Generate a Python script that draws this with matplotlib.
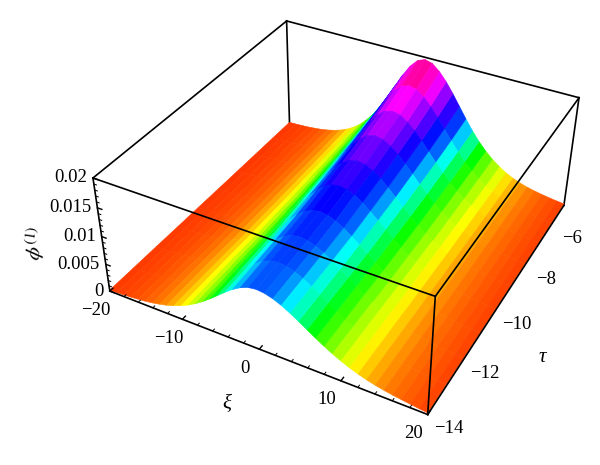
import numpy as np
import matplotlib
matplotlib.use('Agg')
import matplotlib.pyplot as plt
from matplotlib.colors import hsv_to_rgb
from mpl_toolkits.mplot3d import proj3d

plt.rcParams['font.family'] = ['Liberation Serif', 'DejaVu Serif']
plt.rcParams['mathtext.fontset'] = 'stix'

# surface, phi in units of 1e-5
xi = list(range(-20, 21))
tau = [-14, -13, -12, -11, -10, -9, -8, -7, -6, -5]
phi_14 = [19, 25, 33, 43, 56, 72, 93, 121, 155, 199, 253, 318, 397, 488, 590, 699, 809, 912, 994, 1051, 1070, 1054, 1012, 950, 872, 783, 690, 598, 510, 431, 360, 297, 244, 198, 161, 131, 105, 84, 65, 46, 30]
phi_13 = [18, 24, 32, 42, 55, 71, 92, 120, 155, 199, 254, 322, 403, 498, 605, 720, 836, 945, 1033, 1094, 1115, 1097, 1052, 985, 902, 808, 711, 613, 522, 438, 365, 300, 245, 198, 161, 130, 104, 83, 65, 46, 30]
phi_12 = [18, 24, 31, 41, 54, 71, 92, 119, 155, 200, 256, 326, 410, 509, 621, 741, 864, 979, 1073, 1138, 1160, 1141, 1093, 1022, 934, 834, 731, 629, 534, 447, 371, 304, 246, 199, 161, 129, 104, 83, 64, 46, 30]
phi_11 = [16, 22, 29, 38, 50, 66, 86, 114, 149, 194, 251, 322, 410, 512, 632, 761, 895, 1019, 1125, 1195, 1220, 1199, 1147, 1068, 971, 863, 751, 641, 538, 448, 369, 299, 241, 193, 155, 124, 98, 78, 60, 44, 29]
phi_10 = [16, 21, 27, 37, 48, 64, 86, 113, 149, 195, 255, 330, 422, 533, 660, 802, 948, 1086, 1204, 1282, 1310, 1287, 1228, 1140, 1032, 913, 791, 670, 561, 463, 379, 306, 245, 194, 155, 123, 98, 77, 58, 42, 28]
phi_9 = [14, 19, 26, 35, 47, 63, 84, 112, 148, 196, 256, 336, 431, 550, 685, 840, 999, 1151, 1282, 1369, 1400, 1375, 1309, 1211, 1092, 961, 828, 696, 580, 475, 386, 310, 246, 195, 155, 122, 96, 75, 57, 41, 27]
phi_8 = [14, 19, 26, 35, 47, 64, 86, 114, 152, 202, 266, 349, 452, 578, 726, 892, 1068, 1234, 1379, 1476, 1510, 1483, 1409, 1301, 1169, 1026, 879, 738, 611, 499, 404, 322, 255, 201, 159, 125, 98, 77, 58, 41, 27]
phi_7 = [14, 19, 26, 35, 47, 65, 86, 115, 156, 207, 276, 363, 473, 608, 769, 949, 1141, 1325, 1484, 1592, 1630, 1600, 1517, 1398, 1253, 1095, 935, 782, 643, 523, 421, 335, 264, 206, 163, 127, 99, 77, 58, 41, 27]
phi_6 = [14, 19, 26, 35, 47, 65, 88, 119, 161, 216, 288, 381, 501, 646, 822, 1021, 1232, 1438, 1616, 1737, 1780, 1750, 1654, 1520, 1358, 1181, 1005, 836, 685, 555, 445, 351, 276, 215, 169, 131, 102, 79, 59, 41, 27]
phi_5 = [14, 19, 26, 35, 49, 66, 91, 124, 167, 226, 303, 404, 533, 692, 886, 1105, 1342, 1574, 1774, 1911, 1960, 1924, 1816, 1666, 1484, 1285, 1087, 901, 735, 592, 472, 372, 290, 225, 175, 136, 106, 81, 60, 42, 27]
phi_rows = [phi_14, phi_13, phi_12, phi_11, phi_10, phi_9, phi_8, phi_7, phi_6, phi_5]

xi_major = [-20, -10, 0, 10, 20]
xi_minor = [-18, -16, -14, -12, -8, -6, -4, -2, 2, 4, 6, 8, 12, 14, 16, 18]
tau_major = [-14, -12, -10, -8, -6]
z_major = [0, 0.005, 0.01, 0.015, 0.02]
z_labels = ['0', '0.005', '0.01', '0.015', '0.02']
z_minor = [0.001, 0.002, 0.003, 0.004, 0.006, 0.007, 0.008, 0.009, 0.011, 0.012, 0.013, 0.014, 0.016, 0.017, 0.018, 0.019]

# rainbow against height
hue_phi = [0, 0.0012, 0.0029, 0.0064, 0.0091, 0.0105, 0.0125, 0.015, 0.0168, 0.0196]
hue_val = [0.03, 0.08, 0.167, 0.333, 0.5, 0.6, 0.667, 0.76, 0.83, 0.93]

X, Y = np.meshgrid(xi, tau)
Z = np.array(phi_rows) * 1e-5
# colour each facet by the mean height of its corners
Zc = 0.25 * (Z[:-1, :-1] + Z[1:, :-1] + Z[:-1, 1:] + Z[1:, 1:])
hue = np.interp(Zc, hue_phi, hue_val)
colors = hsv_to_rgb(np.dstack([hue, np.ones_like(hue), np.ones_like(hue)]))

fig = plt.figure(figsize=(6, 4.65), dpi=100)
ax = fig.add_axes([0.0699, 0.0718, 1, 1], projection='3d', computed_zorder=False)
ax.set_xlim(-20, 20)
ax.set_ylim(-14, -5)
ax.set_zlim(0, 0.02)
ax.margins(0)
ax.view_init(36.0276, -62.0738, -0.3756)
ax.set_proj_type('persp', focal_length=0.4702)
ax.set_box_aspect((0.9892, 1, 0.3912), zoom=1.0622)
ax.apply_aspect()
ax.set_axis_off()

surf = ax.plot_surface(X, Y, Z, facecolors=colors, rstride=1, cstride=1, shade=False,
                       linewidth=0.4, antialiased=True, zorder=2, clip_on=False)

x0, x1, y0, y1, z1 = -20, 20, -14, -5, 0.02
back = [((x0, y1, z1), (x1, y1, z1)), ((x0, y1, z1), (x0, y1, 0)), ((x0, y1, z1), (x0, y0, z1)),
        ((x1, y1, z1), (x1, y1, 0))]
front = [((x0, y0, 0), (x1, y0, 0)), ((x0, y0, 0), (x0, y0, z1)), ((x1, y0, 0), (x1, y0, z1)),
         ((x0, y0, z1), (x1, y0, z1)), ((x1, y0, z1), (x1, y1, z1)), ((x1, y0, 0), (x1, y1, 0))]
for a, b in back:
    ax.plot(*zip(a, b), color='black', lw=1.2, zorder=1, clip_on=False)
for a, b in front:
    ax.plot(*zip(a, b), color='black', lw=1.2, zorder=3, clip_on=False)

# tick marks
for v in xi_major:
    ax.plot([v, v], [y0, y0 + 0.13], [0, 0], color='black', lw=1, zorder=3, clip_on=False)
for v in xi_minor:
    ax.plot([v, v], [y0, y0 + 0.08], [0, 0], color='black', lw=0.7, zorder=3, clip_on=False)
for v in z_major:
    ax.plot([x0, x0 + 0.6], [y0, y0], [v, v], color='black', lw=1, zorder=3, clip_on=False)
for v in z_minor:
    ax.plot([x0, x0 + 0.35], [y0, y0], [v, v], color='black', lw=0.7, zorder=3, clip_on=False)

M = ax.get_proj()

def label(text, x, y, z, dx, dy, **kw):
    px, py, _ = proj3d.proj_transform(x, y, z, M)
    ax.annotate(text, (px, py), xytext=(dx, dy), textcoords='offset pixels', fontsize=13.5,
                annotation_clip=False, **kw)

for v in xi_major:
    label(f'{v}'.replace('-', '\u2212'), v, y0, 0, -14, -19, ha='center', va='center')
for v in tau_major:
    label(f'{v}'.replace('-', '\u2212'), x1, v, 0, 21, -14, ha='center', va='center')
for v, s in zip(z_major, z_labels):
    label(s, x0, y0, v, -6, 0, ha='right', va='center')

fig.text(227 / 600, 1 - 405 / 465, '\u03be', fontsize=15, style='italic', ha='center', va='center')
fig.text(542 / 600, 1 - 357 / 465, '\u03c4', fontsize=15, style='italic', ha='center', va='center')
fig.text(36 / 600, 1 - 243 / 465, r'$\phi^{\mathrm{(1)}}$', fontsize=15, rotation=82, ha='center', va='center')

fig.savefig('out.png', dpi=100, facecolor='white')
